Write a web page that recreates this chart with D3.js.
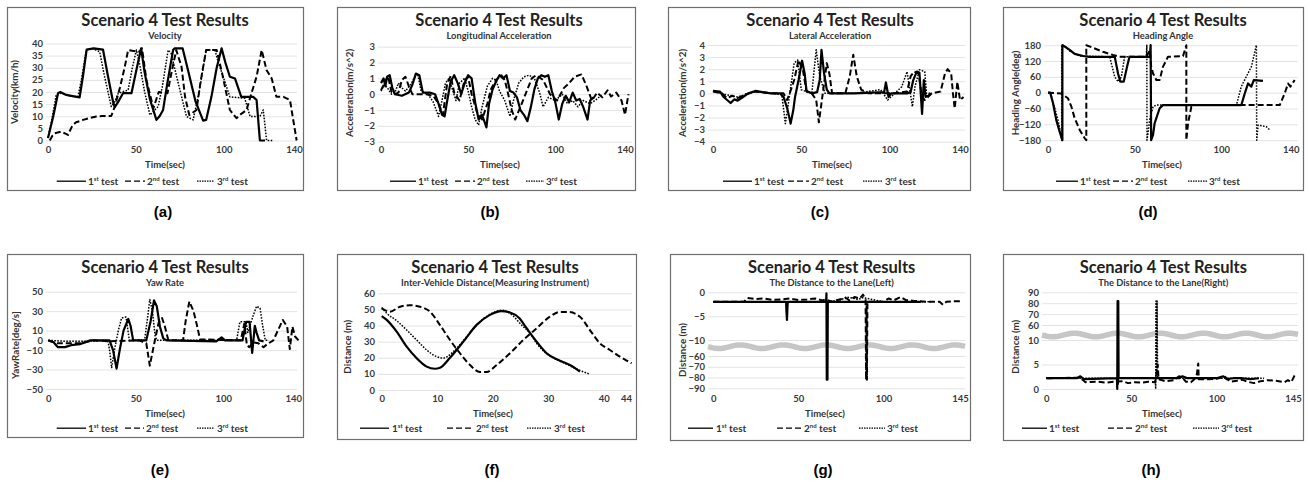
<!DOCTYPE html>
<html><head><meta charset="utf-8">
<script src="https://cdn.jsdelivr.net/npm/d3@7"></script>
<style>body{margin:0;background:#fff}svg{display:block}</style>
</head><body>
<svg id="c" width="1310" height="483"></svg>
<script>
// ---------------- DATA ----------------
const seriesNames = ["1st test", "2nd test", "3rd test"];
const seriesSup = ["st", "nd", "rd"];
const panelLetters = ["(a)","(b)","(c)","(d)","(e)","(f)","(g)","(h)"];
const chartTitle = "Scenario 4 Test Results";
const subtitles = ["Velocity","Longitudinal Acceleration","Lateral Acceleration","Heading Angle","Yaw Rate","Inter-Vehicle Distance(Measuring Instrument)","The Distance to the Lane(Left)","The Distance to the Lane(Right)"];
const yTitles = ["Velocity(km/h)","Acceleration(m/s^2)","Acceleration(m/s^2)","Heading Angle(deg)","YawRate[deg/s]","Distance (m)","Distance (m)","Distance (m)"];
const xTitle = "Time(sec)";

const timeTicks140 = [0,50,100,140];
const timeTicks145 = [0,50,100,145];
const timeTicks44 = [0,10,20,30,40,44];
const velTicks = [0,5,10,15,20,25,30,35,40];
const longAccTicks = [-3,-2,-1,0,1,2,3];
const latAccTicks = [-4,-3,-2,-1,0,1,2,3,4];
const headingTicks = [-180,-120,-60,0,60,120,180];
const yawTicks = [-50,-30,-10,0,10,30,50];
const gapTicks = [0,10,20,30,40,50,60];
const laneLeftTicks = [-90,-80,-70,-60,-10,-5,0];
const laneRightTicks = [0,5,10,60,70,80,90];

const velocity1 = [[0,1],[1,4],[3,10],[5.7,19.5],[7,20],[10.4,18.8],[14,18.3],[18,17.8],[20,27],[22,37.5],[26,38],[31.3,37.5],[34,27],[37,16],[38,13.7],[40,16],[42.7,19.5],[47.5,19.5],[50,28],[53,38],[55,28],[58,17],[61.7,8.5],[63.5,10],[65.5,12.6],[68,24],[71.2,37.3],[72,38],[76.6,38],[80,28],[84,16],[88.3,8.2],[90,8.5],[93,18],[96,30],[98.8,38],[101,32],[103.5,26.3],[106.4,25.6],[110,18],[116.8,18],[118.7,16.7],[120.6,0],[123.5,0]];
const velocity2 = [[1,0],[2.5,2],[3.8,3],[7.6,3.7],[11.4,2.3],[14,6.4],[16,7.5],[20,8.5],[24,9.3],[27.5,9.9],[31,10.1],[36,10.1],[38,14],[41,22],[43.7,30.4],[45.6,37.3],[48,37],[52,36.6],[53.5,38],[56,25],[60,13.3],[63,20],[68,19.5],[70,27],[73,37.3],[76,30.4],[78,18],[80.4,10.5],[84.5,12.6],[87,25],[90,37.3],[96,37.3],[99,28],[103.5,12.6],[107.3,9.2],[110,11],[113,12.6],[116,20],[118.7,26.3],[121.6,37.3],[124.4,29],[127.3,25.6],[130,18],[134,18],[137.7,16.7],[141.5,0]];
const velocity3 = [[0,1],[2,8],[4.7,18.8],[7.6,19.5],[12,18.5],[17,18],[19,25],[21.8,37.3],[25,38],[29.4,36.6],[32,27],[36,14],[38,16],[40,19.5],[45.6,20.8],[48,30],[50.3,37.3],[52,32],[55,20],[58,10.5],[60,12],[62.7,14],[65,22],[68.4,37.3],[70,36],[74,24],[78.8,9.9],[82.6,8.5],[86,20],[90,37.3],[95,37.3],[97,32],[99.7,26.3],[103.5,18],[112,17.4],[115,9.9],[120.6,9.9],[122.5,12.6],[124.4,0],[128,0]];

const longAcc1 = [[0,0.7],[1.5,1.0],[2.5,0.5],[3.5,1.1],[5,1.2],[6.5,0.4],[8,0],[12,-0.1],[16,0.1],[18,0.6],[20,1.3],[22,1.2],[24,0.1],[28,0.1],[31,0],[33,-0.6],[35,-1.3],[36.5,-1.4],[38,-0.4],[40,0.8],[42,1.2],[44,0.7],[46,0],[48,0.7],[50,1.2],[52,1.0],[54,-0.5],[56,-1.6],[58,-1.3],[60.5,-2.1],[62,-0.6],[64,0.3],[66,0.8],[68,1.2],[70,1.0],[72,1.2],[74,0.2],[76,0.1],[78,-0.2],[80,-1.0],[82,-1.3],[84,-1.7],[86,-0.8],[88,0.3],[90,1.0],[92,1.2],[94,1.1],[96,1.2],[98,0.2],[100,-0.5],[102,-1.6],[104,-0.6],[106,-0.1],[108,-0.5],[110,0.1],[112,-0.4],[114,-0.3],[116,-0.8],[118.5,-1.6],[120,-0.4],[122,-0.2]];
const longAcc2 = [[0,0.25],[2,0.7],[4,1.15],[6,0.15],[8,0],[10,0.1],[12,0.9],[14,1.1],[16,0.5],[18,0],[22,0],[26,0],[30,-0.1],[33,-0.6],[35.5,-1.3],[38,0.7],[40,1.15],[42,0.1],[45,-0.4],[48,0.9],[50,1.1],[52,0],[55,-1.1],[58,-1.6],[61,-0.6],[63,0.3],[66,0.9],[69,1.2],[71,0.9],[73,0],[75,-1.0],[77,-1.6],[80,-0.8],[84,0.3],[86.5,1.0],[89,1.2],[93,0.9],[97,0],[101,-0.4],[105,0.4],[108,0.7],[111,1.1],[115,1.25],[118,0.5],[121,-0.4],[124,0.1],[127,-0.2],[130,0.25],[132,-0.15],[135,0.1],[138,-0.4],[140,-1.3],[142,0]];
const longAcc3 = [[0,0.2],[2,0.6],[4,0.35],[6,0],[8,0.1],[10,0.7],[12,0.4],[14,0.2],[17,0.6],[19,1.0],[21,1.3],[23,0.2],[27,0],[30,-0.5],[33,-1.4],[35,-0.4],[37,0.7],[39,1.0],[41,0.3],[43,-0.4],[45,0.7],[48,1.0],[50,0.2],[52,-0.8],[54,-1.6],[56,-1.95],[58,-0.8],[61,0.5],[64,1.0],[66,0.9],[68,0.2],[71,-0.4],[74,-1.4],[76,-0.4],[79,0.7],[82,1.1],[85,1.2],[88,1.0],[91,0.1],[93,-0.8],[96,-0.2],[100,-0.4],[104,0],[107,-0.6],[110,-0.4],[113,-0.8],[116,-0.4],[120,-0.6],[124,-0.3],[127,0]];

const latAcc1 = [[0,0.2],[4,0.15],[6,-0.3],[8,-0.55],[10,-0.8],[12,-0.5],[14,-0.6],[17,-0.3],[20,0],[24,0.2],[28,0.1],[33,0],[38,0],[40,-0.3],[42,-1.2],[44,-2.5],[45.5,-1.4],[46.5,-0.3],[48.5,1.1],[50.5,2.7],[52,1.6],[53,0.2],[56,0],[59,0.1],[60.5,1.1],[61.5,3.6],[63,1.6],[64.5,0.3],[66,0],[80,0],[97,0.1],[98,0.9],[99.5,-0.3],[101,0],[110,0],[112,0.1],[113.5,1.1],[115.5,1.8],[117,1.7],[118.5,-1.7],[119.5,1.1],[120.5,-0.3],[122,-0.2],[123.5,0]];
const latAcc2 = [[0,0.15],[5,0],[8,-0.4],[11,-0.2],[14,-0.4],[18,-0.1],[24,0.15],[33,0],[40,0],[42,-0.55],[43.5,0],[46,1.1],[48.5,2.75],[51,1.9],[53,0.15],[56,0],[58.5,-0.55],[60,-2.4],[61.5,-0.8],[62.5,0.3],[64.5,2.5],[66,1.6],[67.5,0],[75,0],[77.5,1.4],[79.5,3.2],[81.5,1.4],[84,0.3],[88,0],[103,0],[110,0.15],[112,1.4],[114,1.8],[116.5,1.65],[118.5,-0.3],[120,-0.55],[124,0],[129,0.15],[131.5,1.65],[133,2.0],[135,1.65],[136,0],[137,-1.25],[138.5,0.95],[140,-0.55],[142,-0.3]];
const latAcc3 = [[0,0.2],[7,-0.1],[14,-0.3],[24,0.15],[33,0],[39,-0.1],[41,-2.5],[43,-0.55],[46,2.5],[48,2.75],[50,0.3],[56,0],[58.5,3.6],[60.5,1.4],[63.5,0],[80,0],[95,0.3],[99,-0.55],[103,0],[107,0.55],[110,1.8],[113,-1.1],[114.5,0.55],[117,1.95],[120,1.8],[121,0],[123,0]];

const heading1 = [[0,0],[1.3,0],[2.9,-40],[4.8,-104],[6.7,-148],[8.3,-180],[8.3,180],[9.6,175],[12.5,162],[15.4,147],[20.2,139],[24,136],[38.5,136],[40.4,73],[41.7,42],[43.7,42],[45.6,98],[47,136],[58.7,136],[59.2,180],[59.5,-180],[60.6,-160],[61.5,-116],[64.4,-59],[66.3,-47],[111.5,-47],[113.5,-3],[115.4,35],[117.3,23],[118.7,48],[124,45]];
const heading2 = [[0,0],[7.7,-3],[11.5,-21],[13.5,-53],[15.4,-97],[18.3,-141],[21.2,-173],[22.1,-180],[22.1,180],[31.7,155],[37.5,143],[41.3,136],[56.7,136],[58.7,161],[59.5,100],[60.6,73],[62.5,48],[64.4,48],[66.3,98],[69.2,136],[77.9,139],[79.8,180],[79.8,-180],[80.8,-116],[82.7,-53],[84.6,-47],[133.7,-47],[136.5,-3],[138.5,35],[139.8,23],[142.3,48]];
const heading3 = [[0,0],[1.3,0],[2.9,-35],[5.8,-104],[7.7,-167],[7.9,-180],[7.9,180],[9.6,178],[12.5,158],[18.3,139],[35.6,136],[38.5,60],[40.4,42],[42.3,60],[44.2,136],[56.7,136],[57,180],[57.1,-180],[58.7,-100],[60.6,-53],[62.5,-47],[108.7,-47],[111.5,23],[114.4,61],[117.3,98],[120.2,180],[120.4,-180],[121.2,-123],[126,-129],[127.9,-141]];

const yaw1 = [[0,0],[3,-2],[5.5,-7],[9.5,-7],[13,-5],[18,-4],[24,0],[35,0],[37,-10],[39,-29],[41,-8],[43,10],[45.7,22],[47,15],[48.5,0],[56,0],[58.5,20],[60.4,41],[62,35],[63.8,14],[65.7,2],[67.6,0],[96,-1],[99,3],[101,0],[111,0],[113,19],[115,19],[116.5,-13],[118,15],[119,8],[120.5,0],[123,-1]];
const yaw2 = [[0,0],[5,-3],[10,-3],[18,-3],[26,0],[35,-1],[52,0],[56,-3],[58,-26],[60,-8],[61.5,5],[63,18],[65,23],[66.5,15],[68.6,0],[77,0],[78.5,20],[80.6,40],[83,30],[85,15],[86.7,1],[110,0],[112,17],[113.5,-5],[114.9,-7],[117,-2],[120,-3],[123,-7],[125,-4],[128.6,0],[131.4,11],[134,21],[136.5,14],[138,-9],[139.5,14],[141,4],[143,0]];
const yaw3 = [[0,0],[10,-1],[20,-1],[34,0],[35,-10],[36.2,-28],[38,-8],[40,10],[41.9,23],[44.4,24],[46.3,0],[55,0],[56.5,20],[58,42],[59.5,30],[61,5],[62,0],[107.6,0],[109.5,19],[113,19],[114,8],[117,25],[119,35],[121,33],[122.5,15],[124,0],[126,0]];

const gap1 = [[0,45.9],[0.9,43.5],[2.7,36.2],[4.5,26.9],[6.3,19.7],[8.1,14.5],[9.6,13.2],[10.5,13.8],[12.3,20],[14.7,30],[17.1,40.4],[19.5,46.6],[21.5,49],[23,48.2],[24.8,44.5],[26.1,38.3],[27.9,30],[29.7,22.8],[32.1,18.2],[33.9,15.5],[35.7,11.4]];
const gap2 = [[0,50.7],[1.5,48.6],[3.3,51.7],[5.1,52.6],[6.9,51.7],[8.7,48.6],[10.5,40.3],[12.3,31],[14.1,22.8],[15.9,15.5],[17.7,11.2],[18.9,11.2],[20.7,15.5],[23.1,22.8],[25.5,31],[27.9,38.3],[30.3,45.5],[32.1,48.4],[33.6,48.4],[35.7,45.5],[37.5,37.2],[39.3,29],[41.1,24.8],[42.9,20.7],[45,16.6]];
const gap3 = [[0,51.2],[0.9,47.6],[2.7,43],[4.5,37.2],[6.3,31],[8.1,24.8],[9.9,20.7],[11.1,19.8],[12.9,23.8],[15.3,33],[17.7,42.5],[20.1,48],[21.6,49.5],[23.1,47.6],[25.2,40.3],[26.7,35.2],[27.9,29],[29.7,22.5],[32.1,18],[33.9,15],[35.7,12.2],[37.4,9.9]];

const laneLeft1 = [[0,-2],[20,-2],[42.8,-2],[43,-4],[43.3,-5.8],[43.6,-3],[43.8,-2],[66.3,-2],[66.5,-0.2],[66.7,-82],[66.9,-6],[67.1,-82],[67.3,-2],[100,-2],[122,-2]];
const laneLeft2 = [[0,-2],[18,-2],[20,-1.2],[25,-1.4],[30,-1.3],[35,-1.6],[40,-1.5],[45,-1.3],[50,-1.6],[55,-1.5],[60,-1.3],[64,-1.7],[66,-1.5],[70,-2],[74,-1.5],[78,-1.2],[80,-1.7],[83,-1.0],[86,-1.3],[88,-0.5],[89.5,-1.5],[89.8,-82],[90.1,-3],[90.3,-82],[90.6,-2],[95,-2],[100,-2],[103,-1.3],[106,-1.7],[110,-1.0],[113,-1.6],[118,-1.8],[125,-2],[133,-2],[135,-2.6],[137,-2],[140,-1.9],[146,-1.9]];
const laneLeft3 = [[0,-2],[40,-2],[66,-2],[75,-1.6],[78,-1.0],[82,-1.2],[85,-1.5],[88,-1.1],[100,-2],[128,-2]];

const laneRight1 = [[0,2.2],[18,2.2],[20,2.6],[22,2.0],[41.5,2.2],[41.7,0],[41.9,82],[42.1,1],[42.3,82],[42.5,2.2],[60,2.2],[78,2.2],[80,2.6],[83,2.2],[100,2.2],[104,2.6],[106,2.0],[110,2.2],[115,2.2],[120,2.0],[125,2.2]];
const laneRight2 = [[0,2.2],[20,2.3],[23,1.4],[30,1.5],[35,1.3],[40,1.5],[45,1.6],[48,1.2],[52,1.4],[56,1.3],[60,1.5],[64,1.4],[65.5,5],[66,2],[70,1.6],[75,1.8],[78,2.6],[80,2.4],[82,1.5],[85,1.4],[87,2.0],[88.5,3],[89.3,5.2],[89.6,2],[95,2],[100,2.1],[105,2.5],[108,1.5],[112,1.7],[115,1.9],[118,1.5],[122,1.2],[126,1.6],[130,1.8],[135,1.7],[140,1.4],[142,1.8],[144,1.4],[146,2.8]];
const laneRight3 = [[0,2.2],[40,2.2],[64,2.2],[64.3,0],[64.5,82],[64.8,3],[65.1,82],[65.4,2.2],[100,2.2],[128,2.2]];

// ---------------- LAYOUT ----------------
const FONT = "Lato, 'Open Sans', 'Liberation Sans', sans-serif";
const panels = [
 {box:[7,7,303,190], xd:[0,140], xr:[48,294], xt:timeTicks140, yd:[0,40], yr:[140.5,43.5], yt:velTicks, grid:[46,297], cx:165, top:0, ytx:15, yty:92, xtx:165, leg:[[56.7,86,88],[125,145,147],[197,214,217]], lab:[163,217], data:[velocity1,velocity2,velocity3]},
 {box:[337,7,635,190], xd:[0,140], xr:[381,625], xt:timeTicks140, yd:[-3,3], yr:[141.7,46.7], yt:longAccTicks, grid:[378,632], cx:499, top:0, ytx:350, yty:93, xtx:500, leg:[[390,416,418],[455,475,477],[526,544,546]], lab:[490,217], data:[longAcc1,longAcc2,longAcc3]},
 {box:[668,7,970,190], xd:[0,140], xr:[713,960], xt:timeTicks140, yd:[-4,4], yr:[141.7,45], yt:latAccTicks, grid:[708,965], cx:830, top:0, ytx:683, yty:93, xtx:832, leg:[[723,752,754],[788,809,811],[863,882,885]], lab:[820,217], data:[latAcc1,latAcc2,latAcc3]},
 {box:[1003,7,1303,190], xd:[0,140], xr:[1048,1290.7], xt:timeTicks140, yd:[-180,180], yr:[140.2,45.2], yt:headingTicks, grid:[1044,1298], cx:1163, top:0, ytx:1016.7, yty:93, xtx:1162, leg:[[1056,1078,1080],[1113,1133,1135],[1188,1207,1209]], lab:[1148,217], data:[heading1,heading2,heading3]},
 {box:[7,254,303,437], xd:[0,140], xr:[48.3,293.3], xt:timeTicks140, yd:[-50,50], yr:[389,291.7], yt:yawTicks, grid:[46,297], cx:165, top:247, ytx:16.7, yty:345, xtx:165, leg:[[56.7,86,88],[125,144,146],[197,214,217]], lab:[160,475], data:[yaw1,yaw2,yaw3]},
 {box:[337,254,636,439], xd:[0,44], xr:[381.7,626], xt:timeTicks44, yd:[0,60], yr:[390,293.3], yt:gapTicks, grid:[378,632], cx:495, top:247, ytx:348.3, yty:346.7, xtx:493, leg:[[360,389,392],[447,474,476],[527,552,554]], lab:[492,475], data:[gap1,gap2,gap3], smooth:true},
 {box:[670,254,970,440], xd:[0,145], xr:[713.3,960], xt:timeTicks145, yd:[-90,-60,-10,0], yr:[388.3,356,340,292.3], yt:laneLeftTicks, grid:[708,965], band:346.7, cx:831.7, top:247, ytx:683.3, yty:350, xtx:825, leg:[[688,713,716],[777,802,804],[859,885,887]], lab:[823,475], data:[laneLeft1,laneLeft2,laneLeft3]},
 {box:[1003,254,1303,440], xd:[0,145], xr:[1046.3,1293], xt:timeTicks145, yd:[0,10,60,90], yr:[389,340,325,292.3], yt:laneRightTicks, grid:[1042,1298], band:335, cx:1163.3, top:247, ytx:1016.7, yty:346.7, xtx:1162, leg:[[1022,1047,1049],[1108,1133,1135],[1193,1219,1221]], lab:[1151,475], data:[laneRight1,laneRight2,laneRight3]}
];
const styles = [
  {w:2.2, dash:null},
  {w:2, dash:"6,3"},
  {w:1.5, dash:"1.6,1.4"}
];

const svg = d3.select("#c");

panels.forEach((p, i) => {
  const g = svg.append("g");
  const x = d3.scaleLinear().domain(p.xd).range(p.xr);
  const y = d3.scaleLinear().domain(p.yd).range(p.yr);
  const T = p.top;

  // frame
  g.append("rect").attr("x", p.box[0]+0.5).attr("y", p.box[1]+0.5)
    .attr("width", p.box[2]-p.box[0]).attr("height", p.box[3]-p.box[1])
    .attr("fill", "#fff").attr("stroke", "#6e6e6e").attr("stroke-width", 1.2);

  // y axis with gridlines
  const ya = g.append("g").attr("transform", `translate(${p.grid[0]},0)`)
    .call(d3.axisLeft(y).tickValues(p.yt).tickFormat(d3.format("d"))
      .tickSize(-(p.grid[1]-p.grid[0])).tickPadding(3));
  ya.select(".domain").remove();
  ya.selectAll(".tick line").attr("stroke", "#dcdcdc").attr("stroke-width", 0.8);
  ya.selectAll(".tick text").attr("font-family", FONT).attr("font-size", 9.5)
    .attr("font-weight", "bold").attr("fill", "#3a3a3a");

  // x axis labels
  const xlabY = T + 152.5 + (i>=4 ? 2 : 0);
  const xa = g.append("g").attr("transform", `translate(0,${xlabY})`)
    .call(d3.axisBottom(x).tickValues(p.xt).tickFormat(d3.format("d")).tickSize(0).tickPadding(0));
  xa.select(".domain").remove();
  xa.selectAll(".tick text").attr("y", 0).attr("dy", 0)
    .attr("font-family", FONT).attr("font-size", 9.5)
    .attr("font-weight", "bold").attr("fill", "#3a3a3a");

  // broken-axis band
  if (p.band !== undefined) {
    const pts = d3.range(p.grid[0], p.grid[1]+0.5, 1).map(px => [px, p.band + 1.8*Math.sin((px - p.grid[0]) / 43 * 2 * Math.PI)]);
    g.append("path").attr("d", d3.line()(pts)).attr("fill", "none")
      .attr("stroke", "#c6c6c6").attr("stroke-width", 5.5);
  }

  // series
  const line = d3.line().x(d => x(d[0])).y(d => y(d[1]));
  if (p.smooth) line.curve(d3.curveMonotoneX);
  [2,1,0].forEach(k => {
    g.append("path").datum(p.data[k]).attr("d", line).attr("fill", "none")
      .attr("stroke", "#000").attr("stroke-width", styles[k].w)
      .attr("stroke-dasharray", styles[k].dash).attr("stroke-linejoin", "round");
  });

  // titles
  g.append("text").attr("x", p.cx).attr("y", T + 25.5).attr("text-anchor", "middle")
    .attr("font-family", FONT).attr("font-size", 16.5).attr("font-weight", "bold")
    .attr("fill", "#222").text(chartTitle);
  g.append("text").attr("x", p.cx).attr("y", T + 38.8).attr("text-anchor", "middle")
    .attr("font-family", FONT).attr("font-size", 9.3).attr("font-weight", "bold")
    .attr("fill", "#333").text(subtitles[i]);
  g.append("text").attr("transform", `translate(${p.ytx},${p.yty}) rotate(-90)`)
    .attr("text-anchor", "middle").attr("dominant-baseline", "middle")
    .attr("font-family", FONT).attr("font-size", 9.8).attr("font-weight", "bold")
    .attr("fill", "#333").text(yTitles[i]);
  g.append("text").attr("x", p.xtx).attr("y", T + 168 + (i>=4 ? 1.5 : 0)).attr("text-anchor", "middle")
    .attr("font-family", FONT).attr("font-size", 9.5).attr("font-weight", "bold")
    .attr("fill", "#333").text(xTitle);

  // legend
  const ly = T + 184.5;
  p.leg.forEach((L, k) => {
    g.append("line").attr("x1", L[0]).attr("x2", L[1]).attr("y1", ly - 3.3).attr("y2", ly - 3.3)
      .attr("stroke", "#000").attr("stroke-width", 1.3)
      .attr("stroke-dasharray", k===1 ? "6,3" : (k===2 ? "1.5,1" : null));
    const t = g.append("text").attr("x", L[2]).attr("y", ly)
      .attr("font-family", FONT).attr("font-size", 10).attr("font-weight", "bold").attr("fill", "#333");
    t.append("tspan").text(seriesNames[k].charAt(0));
    t.append("tspan").attr("dy", -3.8).attr("font-size", 6).text(seriesSup[k]);
    t.append("tspan").attr("dy", 3.8).text(" test");
  });

  // panel letter
  svg.append("text").attr("x", p.lab[0]).attr("y", p.lab[1]).attr("text-anchor", "middle")
    .attr("font-family", "'Liberation Sans', Arial, sans-serif").attr("font-size", 15)
    .attr("font-weight", "bold").attr("fill", "#000").text(panelLetters[i]);
});
</script>
</body></html>
